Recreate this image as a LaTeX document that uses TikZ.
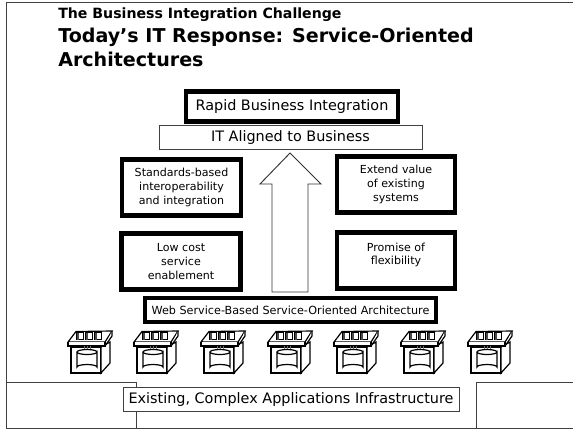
\documentclass[tikz,border=0pt]{standalone}
\usepackage{fontspec}
\setmainfont{DejaVu Sans}
\tikzset{
  x=0.75pt, y=-0.75pt,
  thickbox/.style={draw, line width=3.4pt, fill=white, inner sep=0pt, align=center, font=\fontsize{8.3pt}{10.4pt}\selectfont},
  thinbox/.style={draw=black!75, line width=0.7pt, fill=white, inner sep=0pt, align=center, font=\fontsize{10.8pt}{13pt}\selectfont},
  frameline/.style={draw=black!75, line width=0.7pt},
  slidetext/.style={anchor=base west, inner sep=0pt, font=\bfseries\fontsize{14.3pt}{17pt}\selectfont},
}
\newcommand{\serverunit}[2]{%
  \begin{scope}[shift={(#1,#2)}, line width=0.9pt]
    \draw[fill=white] (0,0) rectangle (30,26);
    \draw[fill=white] (30,26) -- (39,16) -- (39,-5) -- (30,0) -- cycle;
    \draw[fill=white] (-3,-5) -- (5,-15.5) -- (41,-16) -- (34,-5) -- cycle;
    \draw[fill=white] (-3,-5) -- (-3,-1) -- (34,-1) -- (34,-5);
    \draw[fill=white] (34,-1) -- (41,-11) -- (41,-16);
    \foreach \dx in {6,15,24} {
      \draw[line width=1pt, fill=white] (\dx,-7.5) rectangle ++(6.5,-7);
      \fill[black!70] (\dx,-7.5) rectangle ++(2,-7);
    }
    \draw[black!55, line width=0.6pt] (13,-1) -- (13,4) (16,-1) -- (16,4) (19,-1) -- (19,4);
    \draw[fill=white] (6,5) -- (6,20) arc[start angle=180, end angle=360, x radius=10, y radius=2.5] -- (26,5) arc[start angle=0, end angle=360, x radius=10, y radius=2.5];
  \end{scope}
}
\begin{document}
\begin{tikzpicture}
  \useasboundingbox (0,0) rectangle (573,430);
  \fill[white] (0,0) rectangle (573,430);
  % slide frame
  \draw[frameline] (573,2) -- (6,2) -- (6,428) -- (573,428);
  % title
  \node[slidetext, font=\bfseries\fontsize{10.6pt}{12pt}\selectfont] (section) at (58,18) {The Business Integration Challenge};
  \node[slidetext] (title1) at (58,42) {Today’s IT Response: Service-Oriented};
  \node[slidetext] (title2) at (58,66) {Architectures};
  % bottom
  \draw[frameline, fill=white] (6,382) rectangle (136,428);
  \draw[frameline, fill=white] (476,382) rectangle (573,428);
  \node[thinbox, minimum width=336*0.75pt, minimum height=24*0.75pt] (existing) at (291,399.5) {Existing, Complex Applications Infrastructure};
  % servers
  \foreach \i/\xpos in {1/71,2/137,3/204,4/271,5/337,6/404,7/471} {
    \serverunit{\xpos}{347}
  }
  % stack
  \node[thickbox, minimum width=212*0.75pt, minimum height=30*0.75pt, font=\fontsize{10.8pt}{13pt}\selectfont] (rapid) at (292,106.5) {Rapid Business Integration};
  \node[thinbox, minimum width=263*0.75pt, minimum height=24*0.75pt] (aligned) at (290.5,137.5) {IT Aligned to Business};
  \draw[line width=0.7pt, draw=black!80, fill=white] (290,153) -- (321,184) -- (308,184) -- (308,292) -- (272,292) -- (272,184) -- (260,184) -- cycle;
  \node[thickbox, minimum width=119*0.75pt, minimum height=56*0.75pt] (standards) at (181.5,187.5) {Standards-based\\interoperability\\and integration};
  \node[thickbox, minimum width=119*0.75pt, minimum height=56*0.75pt] (lowcost) at (181,261.5) {Low cost\\service\\enablement};
  \node[thickbox, minimum width=118*0.75pt, minimum height=56*0.75pt] (extend) at (396,184.5) {Extend value\\of existing\\systems};
  \node[thickbox, minimum width=118*0.75pt, minimum height=56*0.75pt, text depth=10pt] (promise) at (396,260.5) {Promise of\\flexibility};
  \node[thickbox, minimum width=291*0.75pt, minimum height=24*0.75pt, line width=3.6pt, font=\fontsize{8.4pt}{10pt}\selectfont] (soa) at (290.5,310) {Web Service-Based Service-Oriented Architecture};
\end{tikzpicture}
\end{document}
